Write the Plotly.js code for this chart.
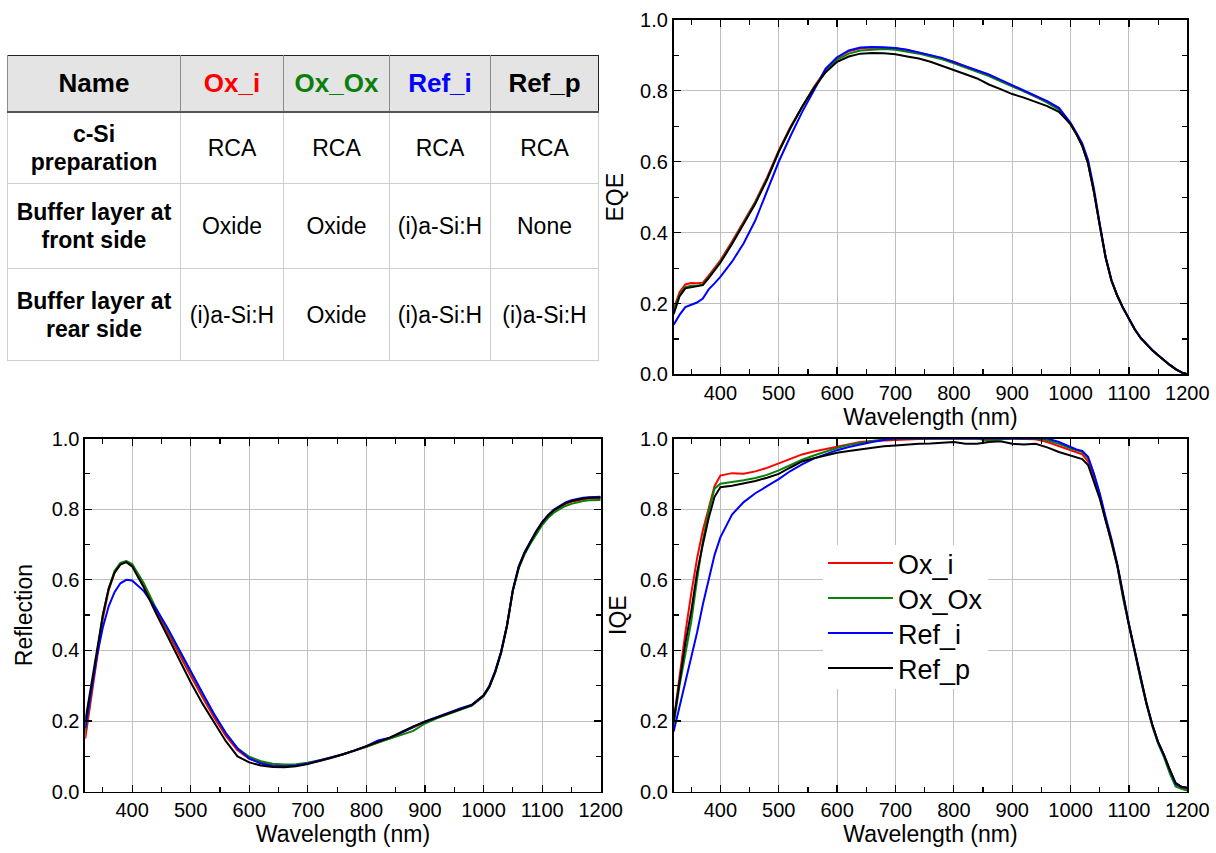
<!DOCTYPE html>
<html>
<head>
<meta charset="utf-8">
<script src="https://cdn.plot.ly/plotly-3.0.1.min.js"></script>
<style>
html,body{margin:0;padding:0;background:#fff;}
#wrap{position:relative;width:1216px;height:853px;overflow:hidden;}
#chart{position:absolute;left:0;top:0;width:1216px;height:853px;}
#tbl{position:absolute;left:7px;top:55px;border-collapse:collapse;table-layout:fixed;
  font-family:"Liberation Sans",Arial,sans-serif;color:#000;border:1.5px solid #222;z-index:5;background:#fff;}
#tbl th,#tbl td{text-align:center;vertical-align:middle;padding:0;}
#tbl th{background:#e4e4e4;font-weight:bold;font-size:26px;border-left:1.5px solid #8a8a8a;border-bottom:2px solid #555;}
#tbl td{font-size:23px;border:1px solid #cfcfcf;line-height:28px;}
#tbl td.lab{font-weight:bold;font-size:23px;}
</style>
</head>
<body>
<div id="wrap">
  <div id="chart"></div>
  <table id="tbl"></table>
</div>
<script>
// ---------- data ----------
const wavelength = [320,330,340,350,360,370,380,390,400,
  420,440,460,480,500,520,540,560,580,600,620,640,660,680,700,720,740,760,780,800,
  820,840,860,880,900,920,940,960,980,1000,
  1010,1020,1030,1040,1050,1060,1070,1080,1090,1100,1110,1120,1130,1140,1150,1160,1170,1180,1190,1200];

const seriesNames = ['Ox_i','Ox_Ox','Ref_i','Ref_p'];
const seriesColors = ['#ff0000','#0a800a','#0000ff','#000000'];

// EQE
const eqe_Ox_i = [0.185,0.232,0.254,0.258,0.257,0.259,0.279,0.300,0.322,
  0.375,0.432,0.488,0.556,0.632,0.698,0.756,0.810,0.858,0.893,0.912,0.920,0.922,0.921,0.920,0.915,0.908,0.900,0.891,0.882,
  0.869,0.857,0.845,0.830,0.815,0.800,0.785,0.768,0.749,0.706,
  0.678,0.645,0.595,0.515,0.420,0.330,0.265,0.222,0.187,0.155,0.127,0.103,0.084,0.068,0.054,0.040,0.027,0.015,0.006,0.001];
const eqe_Ox_Ox = [0.180,0.225,0.246,0.250,0.250,0.254,0.274,0.296,0.318,
  0.370,0.427,0.485,0.552,0.628,0.695,0.754,0.808,0.855,0.888,0.905,0.914,0.917,0.918,0.916,0.911,0.905,0.897,0.889,0.878,
  0.866,0.855,0.842,0.827,0.813,0.799,0.784,0.767,0.747,0.705,
  0.678,0.645,0.595,0.515,0.420,0.330,0.265,0.222,0.187,0.155,0.127,0.103,0.084,0.068,0.054,0.040,0.027,0.015,0.006,0.001];
const eqe_Ref_i = [0.140,0.168,0.190,0.196,0.203,0.214,0.240,0.257,0.275,
  0.318,0.370,0.435,0.515,0.600,0.672,0.740,0.800,0.862,0.895,0.914,0.922,0.924,0.923,0.921,0.916,0.909,0.902,0.893,0.881,
  0.870,0.858,0.846,0.831,0.816,0.801,0.787,0.771,0.752,0.710,
  0.682,0.652,0.605,0.525,0.425,0.333,0.267,0.223,0.188,0.156,0.128,0.104,0.085,0.069,0.054,0.040,0.027,0.015,0.006,0.001];
const eqe_Ref_p = [0.170,0.220,0.243,0.246,0.247,0.252,0.272,0.293,0.315,
  0.368,0.425,0.482,0.550,0.628,0.695,0.755,0.807,0.852,0.882,0.897,0.905,0.907,0.906,0.903,0.897,0.891,0.882,0.871,0.859,
  0.847,0.835,0.818,0.805,0.791,0.781,0.770,0.757,0.741,0.706,
  0.678,0.645,0.595,0.515,0.420,0.330,0.265,0.222,0.187,0.155,0.127,0.103,0.084,0.068,0.054,0.040,0.027,0.015,0.006,0.001];

// Reflection
const refl_Ox_i = [0.150,0.265,0.380,0.490,0.570,0.620,0.645,0.652,0.643,
  0.585,0.515,0.452,0.388,0.328,0.268,0.210,0.158,0.117,0.093,0.082,0.075,0.073,0.075,0.080,0.087,0.095,0.105,0.116,0.127,
  0.140,0.152,0.167,0.182,0.197,0.209,0.221,0.234,0.245,0.272,
  0.298,0.340,0.395,0.470,0.570,0.635,0.675,0.706,0.735,0.760,0.780,0.795,0.806,0.815,0.821,0.825,0.828,0.830,0.831,0.831];
const refl_Ox_Ox = [0.170,0.280,0.395,0.500,0.575,0.625,0.648,0.653,0.645,
  0.590,0.522,0.460,0.398,0.338,0.277,0.218,0.165,0.123,0.099,0.086,0.079,0.077,0.078,0.082,0.088,0.096,0.105,0.115,0.127,
  0.139,0.150,0.160,0.172,0.193,0.208,0.220,0.233,0.244,0.270,
  0.296,0.338,0.393,0.468,0.568,0.632,0.672,0.702,0.730,0.755,0.775,0.790,0.800,0.809,0.815,0.820,0.823,0.825,0.826,0.826];
const refl_Ref_i = [0.180,0.280,0.385,0.465,0.525,0.565,0.590,0.600,0.598,
  0.568,0.520,0.465,0.402,0.340,0.280,0.220,0.166,0.122,0.094,0.080,0.073,0.071,0.074,0.080,0.088,0.097,0.106,0.117,0.129,
  0.145,0.153,0.167,0.183,0.199,0.211,0.224,0.236,0.246,0.273,
  0.300,0.342,0.397,0.472,0.572,0.638,0.678,0.708,0.738,0.763,0.783,0.799,0.810,0.819,0.825,0.829,0.832,0.834,0.835,0.835];
const refl_Ref_p = [0.200,0.300,0.410,0.500,0.575,0.620,0.643,0.650,0.638,
  0.578,0.508,0.443,0.375,0.310,0.250,0.197,0.143,0.100,0.083,0.074,0.070,0.069,0.072,0.078,0.087,0.096,0.106,0.117,0.129,
  0.141,0.153,0.169,0.185,0.198,0.210,0.222,0.234,0.245,0.272,
  0.298,0.340,0.395,0.470,0.570,0.635,0.676,0.707,0.737,0.762,0.782,0.797,0.808,0.817,0.823,0.827,0.830,0.832,0.833,0.833];

// IQE
const iqe_Ox_i = [0.200,0.330,0.450,0.560,0.660,0.740,0.800,0.865,0.895,
  0.902,0.900,0.907,0.917,0.930,0.942,0.955,0.963,0.970,0.978,0.985,0.990,0.993,0.995,0.996,0.998,0.999,1.000,1.000,1.000,
  1.000,1.000,0.997,1.000,1.000,1.000,0.998,0.990,0.978,0.966,
  0.961,0.955,0.935,0.890,0.835,0.770,0.710,0.640,0.550,0.470,0.395,0.320,0.250,0.188,0.140,0.103,0.058,0.020,0.010,0.004];
const iqe_Ox_Ox = [0.190,0.300,0.390,0.480,0.600,0.710,0.795,0.858,0.872,
  0.876,0.882,0.888,0.897,0.910,0.925,0.940,0.952,0.963,0.973,0.982,0.988,0.993,0.997,1.000,1.000,1.000,1.000,1.000,1.000,
  1.000,1.000,0.993,0.998,1.000,1.000,1.000,0.995,0.985,0.972,
  0.966,0.962,0.945,0.900,0.840,0.773,0.712,0.640,0.548,0.468,0.393,0.318,0.248,0.185,0.136,0.098,0.052,0.015,0.008,0.003];
const iqe_Ref_i = [0.170,0.240,0.310,0.380,0.450,0.530,0.600,0.670,0.720,
  0.785,0.820,0.845,0.865,0.885,0.908,0.927,0.943,0.955,0.967,0.976,0.984,0.990,0.996,1.000,1.000,1.000,1.000,1.000,1.000,
  1.000,1.000,1.000,1.000,1.000,1.000,1.000,1.000,0.990,0.975,
  0.969,0.965,0.948,0.900,0.845,0.778,0.716,0.645,0.555,0.475,0.400,0.325,0.252,0.190,0.140,0.103,0.060,0.022,0.014,0.012];
const iqe_Ref_p = [0.200,0.310,0.420,0.510,0.620,0.700,0.775,0.835,0.862,
  0.866,0.872,0.880,0.889,0.900,0.918,0.935,0.944,0.953,0.960,0.965,0.970,0.975,0.978,0.980,0.983,0.985,0.986,0.988,0.990,
  0.985,0.985,0.990,0.992,0.985,0.983,0.985,0.975,0.962,0.952,
  0.948,0.942,0.925,0.880,0.830,0.768,0.710,0.642,0.552,0.472,0.398,0.322,0.250,0.190,0.140,0.105,0.062,0.025,0.014,0.010];

// Table
const tableHeader = ['Name','Ox_i','Ox_Ox','Ref_i','Ref_p'];
const tableHeaderColors = ['#000000','#ff0000','#0a800a','#0000ff','#000000'];
const tableRowLabels = ['c-Si\npreparation','Buffer layer at\nfront side','Buffer layer at\nrear side'];
const tableRows = [
  ['RCA','RCA','RCA','RCA'],
  ['Oxide','Oxide','(i)a-Si:H','None'],
  ['(i)a-Si:H','Oxide','(i)a-Si:H','(i)a-Si:H']
];

// ---------- build table ----------
(function(){
  const colW = [173,103,106,101,108];
  const rowH = [56,72,85,92];
  const t = document.getElementById('tbl');
  const cg = document.createElement('colgroup');
  colW.forEach(w=>{const c=document.createElement('col');c.style.width=w+'px';cg.appendChild(c);});
  t.appendChild(cg);
  const hr = document.createElement('tr'); hr.style.height=rowH[0]+'px';
  tableHeader.forEach((h,i)=>{const th=document.createElement('th');th.textContent=h;th.style.color=tableHeaderColors[i];hr.appendChild(th);});
  t.appendChild(hr);
  tableRows.forEach((r,ri)=>{
    const tr=document.createElement('tr'); tr.style.height=rowH[ri+1]+'px';
    const lab=document.createElement('td'); lab.className='lab';
    lab.innerHTML=tableRowLabels[ri].split('\n').join('<br>');
    tr.appendChild(lab);
    r.forEach(v=>{const td=document.createElement('td');td.textContent=v;tr.appendChild(td);});
    t.appendChild(tr);
  });
})();

// ---------- plot ----------
const eqeData = [eqe_Ox_i,eqe_Ox_Ox,eqe_Ref_i,eqe_Ref_p];
const reflData = [refl_Ox_i,refl_Ox_Ox,refl_Ref_i,refl_Ref_p];
const iqeData = [iqe_Ox_i,iqe_Ox_Ox,iqe_Ref_i,iqe_Ref_p];

const traces = [];
function addSet(arr, xa, ya, legend){
  arr.forEach((ys,i)=>{
    traces.push({x:wavelength,y:ys,type:'scatter',mode:'lines',name:seriesNames[i],
      xaxis:xa,yaxis:ya,showlegend:legend,line:{color:seriesColors[i],width:2},hoverinfo:'skip'});
  });
}
addSet(eqeData,'x','y',false);
addSet(reflData,'x2','y2',false);
addSet(iqeData,'x3','y3',true);

const FONT = 'Liberation Sans, Arial, sans-serif';
function xax(dom, anchor, standoff){
  return {domain:dom, anchor:anchor, range:[320,1200], dtick:100, tick0:0,
    showline:true, linecolor:'#000', linewidth:1.8, mirror:'allticks',
    ticks:'inside', ticklen:7, tickwidth:1.2, tickcolor:'#000',
    minor:{dtick:50, tick0:0, ticks:'inside', ticklen:5, tickwidth:1.2, tickcolor:'#000', showgrid:false},
    showgrid:true, gridcolor:'#bfbfbf', gridwidth:1, zeroline:false,
    tickfont:{size:20, color:'#000', family:FONT},
    title:{text:'Wavelength (nm)', font:{size:23, color:'#000', family:FONT}, standoff:standoff},
    automargin:false, fixedrange:true};
}
function yax(dom, anchor, title, standoff){
  return {domain:dom, anchor:anchor, range:[0,1], dtick:0.2, tick0:0, tickformat:'.1f',
    showline:true, linecolor:'#000', linewidth:1.8, mirror:'allticks',
    ticks:'inside', ticklen:7, tickwidth:1.2, tickcolor:'#000',
    minor:{dtick:0.1, tick0:0, ticks:'inside', ticklen:5, tickwidth:1.2, tickcolor:'#000', showgrid:false},
    showgrid:true, gridcolor:'#bfbfbf', gridwidth:1, zeroline:false,
    tickfont:{size:20, color:'#000', family:FONT},
    title:{text:title, font:{size:23, color:'#000', family:FONT}, standoff:standoff},
    automargin:false, fixedrange:true};
}

const layout = {
  width:1216, height:853,
  margin:{l:0,r:0,t:0,b:0},
  paper_bgcolor:'#fff', plot_bgcolor:'#fff',
  font:{family:FONT, color:'#000'},
  showlegend:true,
  xaxis: xax([0.5540,0.9764],'y',0),
  yaxis: yax([0.5610,0.9766],'x','EQE',10),
  xaxis2: xax([0.0701,0.4940],'y2',4),
  yaxis2: yax([0.0719,0.4859],'x2','Reflection',12),
  xaxis3: xax([0.5540,0.9764],'y3',4),
  yaxis3: yax([0.0719,0.4859],'x3','IQE',7),
  legend:{x:823/1216, y:1-545/853, xanchor:'left', yanchor:'top', bgcolor:'#ffffff',
    borderwidth:0, font:{size:27, family:FONT, color:'#000'}, itemwidth:65, tracegroupgap:0}
};

Plotly.newPlot('chart', traces, layout, {staticPlot:true, displayModeBar:false}).then(function(gd){
  gd.querySelectorAll('.legend .legendlines path').forEach(function(p){ p.setAttribute('d','M5,0h65'); });
  // tighten legend row spacing to match the reference (35 px per row)
  var items = gd.querySelectorAll('.legend .traces');
  var y0 = null, step = 35, shift = -6, oldLast = 0;
  items.forEach(function(g, i){
    var m = /translate\(\s*([-\d.]+)[ ,]+([-\d.]+)\s*\)/.exec(g.getAttribute('transform') || '');
    if(!m) return;
    var x = parseFloat(m[1]), y = parseFloat(m[2]);
    if(y0 === null) y0 = y;
    oldLast = y;
    g.setAttribute('transform', 'translate(' + x + ',' + (y0 + shift + i*step) + ')');
  });
  var bg = gd.querySelector('.legend rect.bg');
  if(bg && items.length){
    var h = parseFloat(bg.getAttribute('height'));
    var newLast = y0 + shift + (items.length-1)*step;
    bg.setAttribute('height', Math.max(0, h - (oldLast - newLast) - 4));
  }
});
</script>
</body>
</html>
